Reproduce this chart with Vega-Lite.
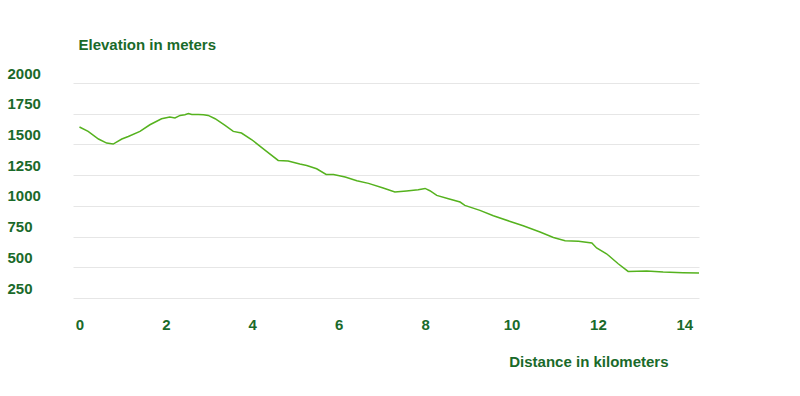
{
  "$schema": "https://vega.github.io/schema/vega-lite/v6.json",
  "autosize": {"type": "none"},
  "padding": {"left": 73, "top": 83, "right": 101, "bottom": 98},
  "width": 626,
  "height": 215,
  "background": "white",
  "config": {
    "view": {"stroke": null},
    "font": "Liberation Sans"
  },
  "data": {
    "values": [
      {"km": 0.0, "elev": 1642},
      {"km": 0.2, "elev": 1606},
      {"km": 0.44, "elev": 1544},
      {"km": 0.63, "elev": 1511},
      {"km": 0.78, "elev": 1503},
      {"km": 0.98, "elev": 1544},
      {"km": 1.13, "elev": 1565},
      {"km": 1.4, "elev": 1606},
      {"km": 1.63, "elev": 1660},
      {"km": 1.9, "elev": 1709},
      {"km": 2.09, "elev": 1723},
      {"km": 2.21, "elev": 1715},
      {"km": 2.33, "elev": 1736},
      {"km": 2.44, "elev": 1742},
      {"km": 2.52, "elev": 1752},
      {"km": 2.6, "elev": 1744},
      {"km": 2.75, "elev": 1744},
      {"km": 2.87, "elev": 1742},
      {"km": 2.98, "elev": 1736},
      {"km": 3.14, "elev": 1709},
      {"km": 3.37, "elev": 1655},
      {"km": 3.56, "elev": 1606},
      {"km": 3.75, "elev": 1593},
      {"km": 3.99, "elev": 1538},
      {"km": 4.33, "elev": 1443},
      {"km": 4.6, "elev": 1370},
      {"km": 4.83, "elev": 1365},
      {"km": 5.1, "elev": 1340},
      {"km": 5.26, "elev": 1329},
      {"km": 5.49, "elev": 1302},
      {"km": 5.71, "elev": 1256},
      {"km": 5.88, "elev": 1256},
      {"km": 6.15, "elev": 1235},
      {"km": 6.42, "elev": 1205},
      {"km": 6.69, "elev": 1183},
      {"km": 7.03, "elev": 1145},
      {"km": 7.3, "elev": 1113},
      {"km": 7.57, "elev": 1121},
      {"km": 7.84, "elev": 1131},
      {"km": 8.0, "elev": 1142},
      {"km": 8.11, "elev": 1123},
      {"km": 8.27, "elev": 1085},
      {"km": 8.54, "elev": 1058},
      {"km": 8.81, "elev": 1031},
      {"km": 8.92, "elev": 1004},
      {"km": 9.27, "elev": 963},
      {"km": 9.58, "elev": 920},
      {"km": 9.97, "elev": 873},
      {"km": 10.27, "elev": 838},
      {"km": 10.66, "elev": 787},
      {"km": 10.97, "elev": 743},
      {"km": 11.24, "elev": 716},
      {"km": 11.55, "elev": 711},
      {"km": 11.86, "elev": 697},
      {"km": 11.97, "elev": 657},
      {"km": 12.2, "elev": 610},
      {"km": 12.47, "elev": 529},
      {"km": 12.7, "elev": 466},
      {"km": 13.13, "elev": 469},
      {"km": 13.51, "elev": 461},
      {"km": 13.97, "elev": 456},
      {"km": 14.34, "elev": 453}
    ]
  },
  "mark": {"type": "line", "color": "#55b21e", "strokeWidth": 1.5, "interpolate": "linear"},
  "encoding": {
    "x": {
      "field": "km",
      "type": "quantitative",
      "scale": {"domain": [-0.15, 14.34], "nice": false, "zero": false},
      "axis": {
        "values": [0, 2, 4, 6, 8, 10, 12, 14],
        "format": "d",
        "grid": false,
        "domain": false,
        "ticks": false,
        "tickSize": 0,
        "labelPadding": 26,
        "labelBaseline": "middle",
        "labelFont": "Liberation Sans",
        "labelFontSize": 15,
        "labelFontWeight": "bold",
        "labelColor": "#1a6a2a",
        "title": "Distance in kilometers",
        "titleFont": "Liberation Sans",
        "titleFontSize": 15,
        "titleFontWeight": "bold",
        "titleColor": "#1a6a2a",
        "titleAlign": "right",
        "titleBaseline": "middle",
        "titleX": 595,
        "titleY": 63
      }
    },
    "y": {
      "field": "elev",
      "type": "quantitative",
      "scale": {"domain": [250, 2000], "nice": false, "zero": false},
      "axis": {
        "values": [250, 500, 750, 1000, 1250, 1500, 1750, 2000],
        "format": "d",
        "grid": true,
        "gridColor": "#e6e6e6",
        "gridWidth": 1,
        "domain": false,
        "ticks": false,
        "tickSize": 0,
        "labelAlign": "left",
        "labelPadding": 66,
        "labelBaseline": "middle",
        "labelOffset": -10,
        "labelFont": "Liberation Sans",
        "labelFontSize": 15,
        "labelFontWeight": "bold",
        "labelColor": "#1a6a2a",
        "title": "Elevation in meters",
        "titleFont": "Liberation Sans",
        "titleFontSize": 15,
        "titleFontWeight": "bold",
        "titleColor": "#1a6a2a",
        "titleAngle": 0,
        "titleAlign": "left",
        "titleBaseline": "middle",
        "titleX": 5,
        "titleY": -39
      }
    }
  }
}
